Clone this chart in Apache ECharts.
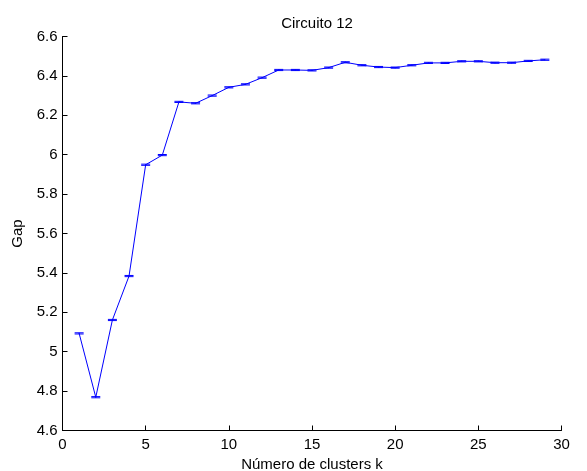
<!DOCTYPE html>
<html>
<head>
<meta charset="utf-8">
<script src="https://cdn.jsdelivr.net/npm/echarts@6/dist/echarts.min.js"></script>
<style>
  html, body { margin: 0; padding: 0; background: #fff; }
  #chart { width: 587px; height: 471px; }
</style>
</head>
<body>
<div id="chart"></div>
<script>
var clusters = [1, 2, 3, 4, 5, 6, 7, 8, 9, 10, 11, 12, 13, 14, 15, 16, 17, 18, 19, 20, 21, 22, 23, 24, 25, 26, 27, 28, 29];
var gap = [5.093, 4.769, 5.161, 5.384, 5.949, 5.998, 6.268, 6.261, 6.300, 6.342,
           6.357, 6.391, 6.430, 6.430, 6.428, 6.442, 6.469, 6.454, 6.445, 6.442,
           6.454, 6.466, 6.466, 6.474, 6.474, 6.467, 6.467, 6.476, 6.482];
var gapErr = [0.003, 0.003, 0.003, 0.003, 0.003, 0.003, 0.003, 0.003, 0.003, 0.003,
              0.003, 0.003, 0.003, 0.003, 0.003, 0.003, 0.003, 0.003, 0.003, 0.003,
              0.003, 0.003, 0.003, 0.003, 0.003, 0.003, 0.003, 0.003, 0.003];
var xTicks = [0, 5, 10, 15, 20, 25, 30];
var yTicks = [4.6, 4.8, 5, 5.2, 5.4, 5.6, 5.8, 6, 6.2, 6.4, 6.6];

var font = '"Liberation Sans", Arial, sans-serif';
var blue = '#0000ff';

var lineData = clusters.map(function (k, i) { return [k, gap[i]]; });
var errData = clusters.map(function (k, i) { return [k, gap[i] - gapErr[i], gap[i] + gapErr[i]]; });

var option = {
  animation: false,
  backgroundColor: '#fff',
  title: {
    text: 'Circuito 12',
    left: 312,
    top: 11,
    textAlign: 'center',
    textStyle: { fontFamily: font, fontSize: 15, fontWeight: 'normal', color: '#000' }
  },
  grid: { left: 62.5, right: 25.5, top: 36.5, bottom: 40.5, outerBoundsMode: 'none' },
  xAxis: {
    type: 'value',
    min: xTicks[0],
    max: xTicks[xTicks.length - 1],
    interval: 5,
    name: 'Número de clusters k',
    nameLocation: 'middle',
    nameGap: 23,
    nameTextStyle: { fontFamily: font, fontSize: 15, color: '#000' },
    axisLine: { lineStyle: { color: '#000', width: 1 } },
    axisTick: { inside: true, length: 5, lineStyle: { color: '#000' } },
    axisLabel: { fontFamily: font, fontSize: 15, color: '#000', margin: 7 },
    splitLine: { show: false }
  },
  yAxis: {
    type: 'value',
    min: yTicks[0],
    max: yTicks[yTicks.length - 1],
    interval: 0.2,
    name: 'Gap',
    nameLocation: 'middle',
    nameGap: 35,
    nameTextStyle: { fontFamily: font, fontSize: 15, color: '#000' },
    axisLine: { show: true, lineStyle: { color: '#000', width: 1 } },
    axisTick: { show: true, inside: true, length: 5, lineStyle: { color: '#000' } },
    axisLabel: {
      fontFamily: font, fontSize: 15, color: '#000', margin: 5,
      formatter: function (v) { return String(+v.toFixed(1)); }
    },
    splitLine: { show: false }
  },
  series: [
    {
      type: 'line',
      data: lineData,
      symbol: 'none',
      lineStyle: { color: blue, width: 1 },
      itemStyle: { color: blue },
      z: 2
    },
    {
      type: 'custom',
      data: errData,
      z: 3,
      renderItem: function (params, api) {
        var lo = api.coord([api.value(0), api.value(1)]);
        var hi = api.coord([api.value(0), api.value(2)]);
        var hw = 4.5;
        var st = { stroke: blue, lineWidth: 1 };
        return {
          type: 'group',
          children: [
            { type: 'line', shape: { x1: lo[0], y1: lo[1], x2: hi[0], y2: hi[1] }, style: st },
            { type: 'line', shape: { x1: lo[0] - hw, y1: lo[1], x2: lo[0] + hw, y2: lo[1] }, style: st },
            { type: 'line', shape: { x1: hi[0] - hw, y1: hi[1], x2: hi[0] + hw, y2: hi[1] }, style: st }
          ]
        };
      }
    }
  ]
};

var myChart = echarts.init(document.getElementById('chart'));
myChart.setOption(option);
</script>
</body>
</html>
